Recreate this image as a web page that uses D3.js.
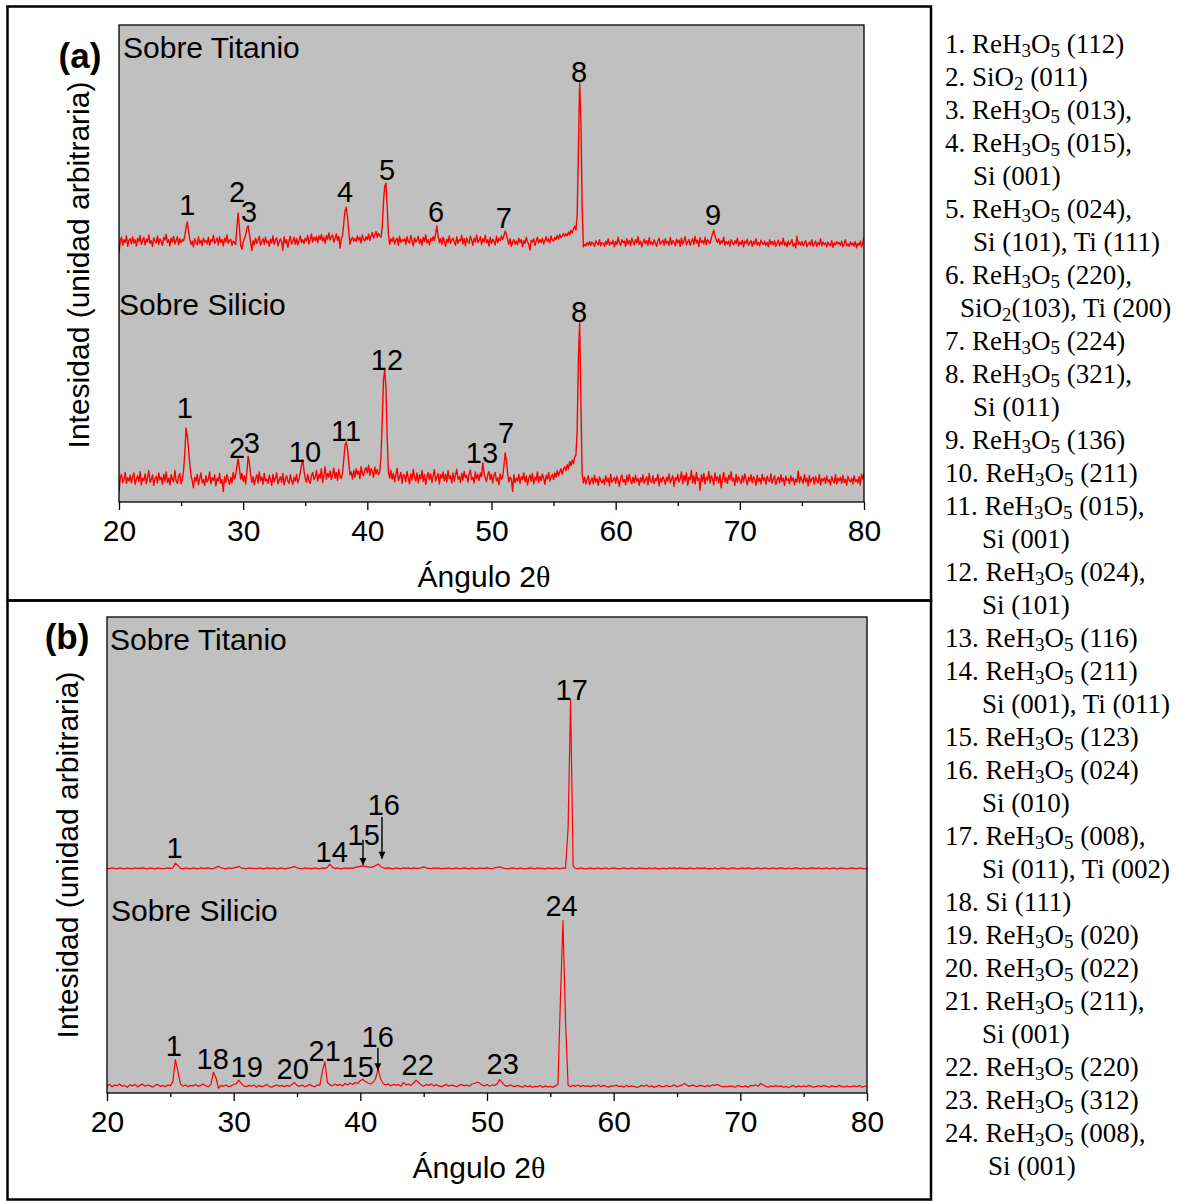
<!DOCTYPE html>
<html>
<head>
<meta charset="utf-8">
<script src="https://cdn.jsdelivr.net/npm/d3@7"></script>
<style>
  body { margin: 0; background: #fff; }
  svg { display: block; }
</style>
</head>
<body>
<svg id="fig" width="1181" height="1201"></svg>
<script>
// ---------------- data ----------------
// 2θ scan range shared by every pattern (uniform step, derived from point count)
const scanRange = [20, 80];
const xTicks = [20, 30, 40, 50, 60, 70, 80];
const xMinorTicks = [25, 35, 45, 55, 65, 75];

// (a) patterns, 0.1° step, arbitrary counts
const aTitanio = [
  22,47,55,38,50,44,58,36,49,52,
  41,56,43,50,37,53,46,59,40,48,
  55,39,51,45,60,42,48,36,54,47,
  43,58,40,52,46,38,55,49,61,44,
  50,37,53,45,57,41,48,56,39,52,
  44,50,47,58,75,87,68,50,40,47,
  35,52,44,39,56,42,49,37,53,45,
  48,41,55,38,50,46,59,42,47,53,
  39,56,44,50,37,53,45,60,42,48,
  51,38,47,44,40,78,106,75,38,30,
  45,52,60,74,79,62,45,27,48,40,
  53,42,49,57,38,46,52,40,55,44,
  47,36,51,43,58,40,49,54,37,46,
  52,45,28,56,43,50,34,48,57,41,
  46,55,40,52,39,47,58,44,50,42,
  53,47,59,41,50,62,45,55,48,57,
  44,58,50,61,47,55,42,59,51,64,
  49,56,60,45,53,62,48,57,32,52,
  58,84,110,118,98,68,40,50,55,47,
  52,46,58,49,55,43,60,51,47,56,
  50,62,48,57,65,53,60,67,55,63,
  58,55,75,130,162,169,118,60,40,52,
  46,55,41,49,53,38,57,44,50,47,
  52,40,56,46,43,59,48,37,54,45,
  49,57,42,51,38,55,46,60,43,50,
  39,53,47,56,48,62,79,58,44,52,
  40,55,47,36,51,44,58,42,49,53,
  45,38,56,43,50,47,59,41,52,37,
  54,46,42,57,49,38,53,45,60,44,
  48,56,40,52,45,59,43,50,37,55,
  42,51,46,39,57,44,53,48,58,50,
  58,68,62,50,40,52,36,45,50,41,
  47,39,53,44,50,35,48,42,55,46,
  40,28,49,45,52,38,47,55,43,50,
  44,53,41,48,56,46,52,43,58,49,
  47,55,50,59,52,61,54,58,63,57,
  62,58,66,60,70,64,72,78,70,100,
  235,380,300,120,35,40,37,44,39,46,
  38,45,41,36,48,43,39,50,37,44,
  42,36,47,40,52,38,45,41,49,35,
  46,40,55,43,38,50,44,47,36,52,
  41,48,37,53,45,39,50,43,56,40,
  47,35,44,51,42,48,38,54,41,45,
  39,50,43,36,47,53,40,45,49,38,
  52,42,46,38,55,40,48,44,37,51,
  43,49,36,53,41,47,56,39,45,50,
  38,46,52,40,57,43,49,36,54,44,
  48,41,55,39,50,45,42,53,62,70,
  58,50,44,52,40,48,43,55,38,46,
  41,47,36,50,44,39,48,42,53,37,
  45,40,49,35,47,42,51,38,44,48,
  36,46,41,52,39,44,37,49,43,40,
  47,38,44,35,50,41,46,39,48,36,
  42,49,37,45,40,53,38,44,35,47,
  39,44,50,36,42,33,57,40,45,38,
  46,37,43,48,35,41,45,38,50,36,
  42,47,36,44,39,52,37,45,40,43,
  35,45,40,37,48,34,43,39,46,41,
  44,38,47,35,42,50,37,41,36,45,
  39,43,36,46,33,42,38,47,35,44,
  55
];
const aSilicio = [
  22,50,58,41,47,62,39,51,44,56,
  40,53,61,37,48,55,43,64,36,50,
  45,59,38,52,66,41,47,57,35,49,
  54,40,61,46,52,37,58,44,63,41,
  50,36,57,48,42,66,45,39,53,60,
  38,47,66,102,155,140,112,80,56,44,
  30,52,43,58,36,49,61,40,47,35,
  55,42,48,63,38,51,45,57,34,50,
  44,60,39,47,22,53,41,58,46,37,
  52,40,62,48,57,75,90,70,48,60,
  43,55,38,62,96,82,58,41,53,36,
  49,57,40,63,45,52,37,60,44,48,
  39,56,47,35,58,42,50,61,38,46,
  53,41,60,36,48,55,43,39,57,45,
  37,52,44,58,40,49,61,78,88,66,
  50,41,58,45,39,55,62,47,53,66,
  44,58,50,70,41,56,74,48,60,52,
  65,47,58,71,50,62,45,68,55,49,
  60,88,118,126,112,84,57,63,48,66,
  52,70,58,65,49,74,60,55,68,72,
  61,77,56,70,64,52,73,59,68,57,
  63,95,170,255,277,240,135,62,50,66,
  48,60,42,57,71,45,53,62,39,58,
  55,43,64,50,38,59,46,68,52,44,
  61,40,56,49,66,43,58,37,53,62,
  47,59,41,55,68,44,52,60,38,57,
  50,63,45,58,42,66,49,55,40,61,
  44,57,69,48,53,41,60,46,64,51,
  56,42,59,67,47,52,40,63,49,58,
  45,61,53,82,60,50,43,57,64,47,
  58,40,55,62,44,51,36,59,48,53,
  75,103,88,60,42,52,48,22,57,41,
  50,44,58,39,53,47,61,42,55,36,
  49,57,43,60,38,52,46,63,41,54,
  45,59,50,37,56,48,62,44,53,58,
  47,61,52,66,55,63,70,58,68,74,
  66,78,70,85,76,88,80,95,98,150,
  300,377,210,60,40,52,38,47,55,36,
  44,51,38,56,42,49,35,53,45,40,
  48,37,55,43,50,34,58,41,46,52,
  39,54,45,33,50,57,42,47,36,55,
  43,58,46,38,52,40,56,44,49,35,
  51,42,57,39,47,53,36,60,44,41,
  55,38,49,45,58,34,50,42,53,47,
  37,52,44,59,40,48,55,33,51,46,
  58,42,49,63,38,56,44,61,35,52,
  47,66,40,55,38,62,45,50,25,57,
  43,60,38,52,46,64,40,55,49,36,
  61,45,53,40,57,30,48,62,42,51,
  39,56,47,63,44,50,35,58,41,53,
  46,38,55,42,59,48,36,52,44,57,
  40,53,47,35,56,43,50,38,58,45,
  51,37,54,46,42,59,39,48,55,36,
  47,52,40,57,43,50,35,54,45,49,
  38,55,44,51,36,48,42,65,40,53,
  46,39,57,43,50,34,55,41,48,52,
  37,53,45,40,58,36,49,44,51,39,
  55,42,47,36,53,45,40,57,38,50,
  44,52,39,56,41,48,35,54,46,42,
  50,38,55,43,47,40,53,36,58,48,
  60
];
const aOffsets = [500, 0];   // vertical stacking of Titanio / Silicio

// (b) patterns, 0.2° step
const bTitanio = [
  17,16,18,17,16, 18,17,16,18,17, 16,18,17,17,18, 17,16,18,17,16,
  18,17,16,17,18, 17,18,28,23,17, 16,18,17,16,18, 17,16,18,17,17,
  18,16,17,19,21, 18,17,16,18,17, 18,19,21,18,17, 16,18,17,17,16,
  18,17,16,18,17, 17,18,16,17,18, 16,17,18,19,21, 18,17,16,18,17,
  17,16,18,17,16, 18,17,19,26,19, 17,18,16,17,18, 17,18,17,19,20,
  21,22,21,20,19, 20,23,26,21,18, 17,18,17,16,18, 17,16,18,17,18,
  16,18,17,17,18, 20,18,17,16,18, 17,18,16,17,17, 18,16,17,18,16,
  17,18,17,16,18, 17,16,18,17,17, 18,17,16,18,19, 20,18,17,16,17,
  18,17,16,18,17, 16,17,18,17,16, 18,17,17,16,18, 17,16,18,17,16,
  18,17,100,371,22, 17,16,18,17,16, 17,18,16,17,18, 16,17,18,16,17,
  18,17,16,17,18, 17,16,18,17,16, 18,17,17,16,18, 16,18,17,16,17,
  17,16,18,17,18, 16,18,17,17,16, 18,17,16,18,17, 17,18,16,17,16,
  18,16,17,18,17, 16,17,18,17,16, 17,18,16,18,17, 16,17,18,16,17,
  18,16,17,18,16, 17,18,17,16,18, 16,17,18,17,16, 18,16,17,18,17,
  17,18,16,17,18, 16,17,18,16,17, 18,17,16,17,18, 17,16,18,17,16,
  17
];
const bSilicio = [
  14,18,13,17,15, 19,14,16,12,17, 15,18,13,16,19, 14,17,15,12,16,
  18,14,16,13,17, 15,24,70,45,19, 14,17,13,16,15, 18,14,16,19,15,
  13,18,44,32,10, 16,14,17,13,15, 18,19,27,20,15, 13,16,14,17,12,
  16,13,15,18,14, 12,15,17,14,16, 13,16,14,18,22, 16,14,17,13,15,
  18,15,13,17,16, 45,66,22,17,15, 19,16,18,15,20, 17,21,18,22,20,
  26,29,24,21,19, 22,30,50,30,20, 17,19,15,18,16, 18,14,22,17,19,
  16,21,27,22,17, 14,18,16,19,15, 17,15,13,16,18, 14,17,15,13,16,
  18,15,17,14,19, 20,23,21,17,15, 18,14,17,16,19, 28,22,16,14,17,
  15,13,16,14,12, 16,13,15,12,14, 13,16,12,15,13, 14,12,15,18,200,
  362,150,17,13,16, 14,17,13,16,14, 15,13,16,14,17, 13,16,14,12,15,
  14,17,13,15,12, 16,13,15,14,12, 13,16,14,17,13, 15,12,14,16,13,
  14,16,13,15,17, 13,15,17,20,16, 14,17,15,13,16, 15,13,16,14,17,
  16,18,15,13,14, 13,15,14,12,16, 14,13,15,12,16, 15,17,14,20,17,
  14,12,15,13,16, 13,15,12,14,11, 14,16,12,15,13, 15,13,16,14,12,
  14,15,13,16,14, 12,15,14,13,16, 14,12,15,13,14, 15,13,16,12,14,
  15
];
const bOffsets = [455, 0];

// peak numbers: [label, 2θ, intensity at label baseline]
const aLabelsTi = [["1",25.5,602],["2",29.5,629],["3",30.47,587],["4",38.2,629],["5",41.58,675],
                   ["6",45.53,587],["7",51.0,574],["8",57.05,881],["9",67.84,581]];
const aLabelsSi = [["1",25.3,176],["2",29.5,92],["3",30.7,103],["10",34.98,84],["11",38.28,128],
                   ["12",41.58,277],["13",49.23,82],["7",51.17,124],["8",57.05,377]];
const bLabelsTi = [["1",25.34,494],["14",37.74,485],["15",40.27,521],["16",41.85,584],["17",56.69,826]];
const bLabelsSi = [["1",25.27,78],["18",28.34,50],["19",31.03,34],["20",34.66,29],["21",37.19,67],
                   ["15",39.79,34],["16",41.37,97],["22",44.53,38],["23",51.24,40],["24",55.89,372]];
// pointer arrows: [2θ, from intensity, to intensity]
const bArrows = [[40.21,532,479],[41.71,580,492],[41.39,95,48]];

// phase / plane assignments for each numbered peak
const peakAssignments = [
  ["ReH_3O_5 (112)"],
  ["SiO_2 (011)"],
  ["ReH_3O_5 (013),"],
  ["ReH_3O_5 (015),", "Si (001)"],
  ["ReH_3O_5 (024),", "Si (101), Ti (111)"],
  ["ReH_3O_5 (220),", "SiO_2(103), Ti (200)"],
  ["ReH_3O_5 (224)"],
  ["ReH_3O_5 (321),", "Si (011)"],
  ["ReH_3O_5 (136)"],
  ["ReH_3O_5 (211)"],
  ["ReH_3O_5 (015),", "Si (001)"],
  ["ReH_3O_5 (024),", "Si (101)"],
  ["ReH_3O_5 (116)"],
  ["ReH_3O_5 (211)", "Si (001), Ti (011)"],
  ["ReH_3O_5 (123)"],
  ["ReH_3O_5 (024)", "Si (010)"],
  ["ReH_3O_5 (008),", "Si (011), Ti (002)"],
  ["Si (111)"],
  ["ReH_3O_5 (020)"],
  ["ReH_3O_5 (022)"],
  ["ReH_3O_5 (211),", "Si (001)"],
  ["ReH_3O_5 (220)"],
  ["ReH_3O_5 (312)"],
  ["ReH_3O_5 (008),", "Si (001)"]
];

// ---------------- drawing ----------------
const SANS = "'Liberation Sans', Arial, Helvetica, sans-serif";
const SERIF = "'Liberation Serif', 'Times New Roman', serif";
const svg = d3.select("#fig");
const defs = svg.append("defs");

defs.append("marker")
  .attr("id", "arrowhead")
  .attr("viewBox", "0 0 10 10")
  .attr("refX", 10).attr("refY", 5)
  .attr("markerUnits", "userSpaceOnUse")
  .attr("markerWidth", 10).attr("markerHeight", 7)
  .attr("orient", "auto")
  .append("path").attr("d", "M0,0 L10,5 L0,10 Z").attr("fill", "#000");

function drawPanel(p) {
  const x = d3.scaleLinear().domain(scanRange).range([p.left, p.right]);
  const y = d3.scaleLinear().domain([0, 1000]).range([p.bottom, p.top]);
  const g = svg.append("g");

  g.append("rect")
    .attr("x", p.left).attr("y", p.top)
    .attr("width", p.right - p.left).attr("height", p.bottom - p.top)
    .attr("fill", "#c0c0c0");

  const clipId = "clip-" + p.id;
  defs.append("clipPath").attr("id", clipId).append("rect")
    .attr("x", p.left).attr("y", p.top)
    .attr("width", p.right - p.left).attr("height", p.bottom - p.top);

  p.series.forEach(s => {
    const n = s.values.length;
    const step = (scanRange[1] - scanRange[0]) / (n - 1);
    const line = d3.line()
      .x((d, i) => x(scanRange[0] + i * step))
      .y(d => y(d + s.offset));
    g.append("path")
      .attr("d", line(s.values))
      .attr("fill", "none")
      .attr("stroke", "#ff0000")
      .attr("stroke-width", p.lineWidth)
      .attr("stroke-linejoin", "round")
      .attr("clip-path", `url(#${clipId})`);
  });

  g.append("rect")
    .attr("x", p.left).attr("y", p.top)
    .attr("width", p.right - p.left).attr("height", p.bottom - p.top)
    .attr("fill", "none").attr("stroke", "#000").attr("stroke-width", 1.3);

  // x axis: major ticks with labels, minor ticks without
  const major = g.append("g").attr("transform", `translate(0,${p.bottom})`)
    .call(d3.axisBottom(x).tickValues(xTicks).tickSize(8).tickSizeOuter(0)
      .tickPadding(p.tickPad).tickFormat(d3.format("d")));
  const minor = g.append("g").attr("transform", `translate(0,${p.bottom})`)
    .call(d3.axisBottom(x).tickValues(xMinorTicks).tickSize(4).tickSizeOuter(0).tickFormat(""));
  [major, minor].forEach(a => {
    a.select(".domain").remove();
    a.selectAll(".tick line").attr("stroke", "#000").attr("stroke-width", 1.3);
  });
  major.selectAll(".tick text")
    .attr("font-family", SANS).attr("font-size", 30).attr("fill", "#000");

  g.append("text")
    .attr("x", p.xTitle[0]).attr("y", p.xTitle[1])
    .attr("text-anchor", "middle")
    .attr("font-family", SANS).attr("font-size", 30)
    .text("Ángulo 2")
    .append("tspan").attr("font-family", SERIF).text("θ");

  g.append("text")
    .attr("transform", `translate(${p.yTitle[0]},${p.yTitle[1]}) rotate(-90)`)
    .attr("text-anchor", "middle")
    .attr("font-family", SANS).attr("font-size", 30)
    .text("Intesidad (unidad arbitraria)");

  g.append("text")
    .attr("x", p.tag[0]).attr("y", p.tag[1])
    .attr("text-anchor", "middle")
    .attr("font-family", SANS).attr("font-size", 35).attr("font-weight", "bold")
    .text(p.tagText);

  p.captions.forEach(c => {
    g.append("text").attr("x", c[1]).attr("y", c[2])
      .attr("font-family", SANS).attr("font-size", 30)
      .text(c[0]);
  });

  p.labels.forEach(set => {
    g.selectAll(null).data(set).enter().append("text")
      .attr("x", d => x(d[1])).attr("y", d => y(d[2]))
      .attr("text-anchor", "middle")
      .attr("font-family", SANS).attr("font-size", 29)
      .text(d => d[0]);
  });

  (p.arrows || []).forEach(a => {
    g.append("line")
      .attr("x1", x(a[0])).attr("x2", x(a[0]))
      .attr("y1", y(a[1])).attr("y2", y(a[2]))
      .attr("stroke", "#000").attr("stroke-width", 1.4)
      .attr("marker-end", "url(#arrowhead)");
  });
}

drawPanel({
  id: "a", left: 119, right: 864, top: 25, bottom: 502, tickPad: 10, lineWidth: 1.4,
  series: [{ values: aTitanio, offset: aOffsets[0] }, { values: aSilicio, offset: aOffsets[1] }],
  xTitle: [484, 587], yTitle: [89, 265], tag: [80, 68], tagText: "(a)",
  captions: [["Sobre Titanio", 123, 58], ["Sobre Silicio", 119, 315]],
  labels: [aLabelsTi, aLabelsSi]
});

drawPanel({
  id: "b", left: 107, right: 867, top: 617, bottom: 1093, tickPad: 10, lineWidth: 1.2,
  series: [{ values: bTitanio, offset: bOffsets[0] }, { values: bSilicio, offset: bOffsets[1] }],
  xTitle: [479, 1178], yTitle: [78, 855], tag: [67, 649], tagText: "(b)",
  captions: [["Sobre Titanio", 110, 650], ["Sobre Silicio", 111, 921]],
  labels: [bLabelsTi, bLabelsSi],
  arrows: bArrows
});

// figure frames
const frame = svg.append("g").attr("fill", "none").attr("stroke", "#000").attr("stroke-width", 2.5);
frame.append("rect").attr("x", 7.5).attr("y", 6.5).attr("width", 923.5).attr("height", 594);
frame.append("rect").attr("x", 7.5).attr("y", 600.5).attr("width", 923.5).attr("height", 599);

// peak assignment list (each line its own text element; subscripts lowered)
const legend = svg.append("g")
  .attr("font-family", SERIF).attr("font-size", 27).attr("fill", "#000");
const SUB_SHIFT = 4;
let row = 0;
function addLine(str, xPos) {
  const t = legend.append("text").attr("x", xPos).attr("y", 53 + 33 * row);
  let lowered = false;
  str.split(/(_\d)/).filter(s => s.length).forEach(part => {
    if (part[0] === "_") {
      t.append("tspan").attr("font-size", 19)
        .attr("dy", lowered ? 0 : SUB_SHIFT).text(part.slice(1));
      lowered = true;
    } else {
      t.append("tspan").attr("dy", lowered ? -SUB_SHIFT : 0).text(part);
      lowered = false;
    }
  });
  row++;
}
peakAssignments.forEach((lines, i) => {
  const num = i + 1;
  addLine(num + ". " + lines[0], 945);
  lines.slice(1).forEach(l => {
    const indent = l.startsWith("SiO") ? 960 : (num < 10 ? 973 : (num === 24 ? 988 : 982));
    addLine(l, indent);
  });
});
</script>
</body>
</html>
